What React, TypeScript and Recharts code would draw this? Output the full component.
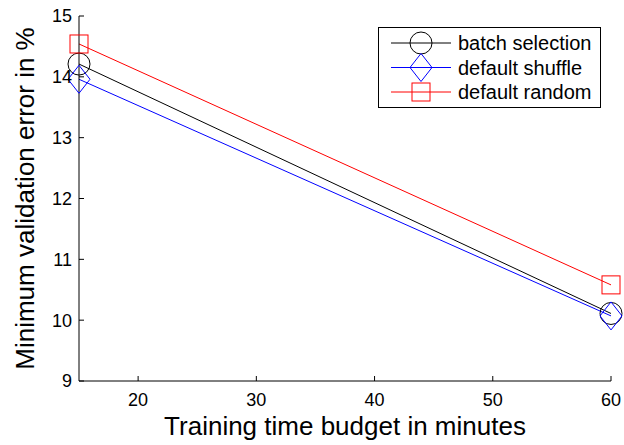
import React from 'react';
import { LineChart, Line, XAxis, YAxis, Legend } from 'recharts';

// values
const minutes = [15, 60];
const batchSelection = [14.21, 10.11];
const defaultShuffle = [13.96, 10.07];
const defaultRandom = [14.54, 10.58];

const xTicks = [20, 30, 40, 50, 60];
const yTicks = [9, 10, 11, 12, 13, 14, 15];

const seriesOrder = ['batch', 'shuffle', 'random'];

const data = minutes.map((m, i) => ({
  minutes: m,
  batch: batchSelection[i],
  shuffle: defaultShuffle[i],
  random: defaultRandom[i],
}));

const FONT = "'Liberation Sans', Arial, Helvetica, sans-serif";

type Shape = 'circle' | 'diamond' | 'square';

const marker = (shape: Shape, cx: number, cy: number, color: string, key?: string) => {
  if (shape === 'circle') {
    return <circle key={key} cx={cx} cy={cy} r={11} fill="none" stroke={color} strokeWidth={1} />;
  }
  if (shape === 'diamond') {
    const pts = `${cx},${cy - 14} ${cx + 11},${cy} ${cx},${cy + 14} ${cx - 11},${cy}`;
    return <polygon key={key} points={pts} fill="none" stroke={color} strokeWidth={1} />;
  }
  return <rect key={key} x={cx - 9} y={cy - 9} width={18} height={18} fill="none" stroke={color} strokeWidth={1} />;
};

const shapes: Record<string, Shape> = { batch: 'circle', shuffle: 'diamond', random: 'square' };

const makeDot = (shape: Shape, color: string) => (props: any) =>
  marker(shape, props.cx, props.cy, color, `${shape}-${props.index}`);

const BottomTick = ({ x, y, payload }: any) => (
  <g>
    <line x1={x} y1={y} x2={x} y2={y - 5} stroke="#000" />
    <text x={x} y={y + 25} textAnchor="middle" fontSize={18} fontFamily={FONT} fill="#000">
      {payload.value}
    </text>
  </g>
);

const TopTick = ({ x, y }: any) => <line x1={x} y1={y} x2={x} y2={y + 5} stroke="#000" />;

const LeftTick = ({ x, y, payload }: any) => (
  <g>
    <line x1={x} y1={y} x2={x + 5} y2={y} stroke="#000" />
    <text x={x - 7} y={y} dy="0.36em" textAnchor="end" fontSize={18} fontFamily={FONT} fill="#000">
      {payload.value}
    </text>
  </g>
);

const RightTick = ({ x, y }: any) => <line x1={x} y1={y} x2={x - 5} y2={y} stroke="#000" />;

const LegendBox = ({ payload }: any) => {
  const items = [...(payload || [])].sort(
    (a: any, b: any) => seriesOrder.indexOf(a.dataKey) - seriesOrder.indexOf(b.dataKey)
  );
  return (
    <svg width={224} height={82} style={{ display: 'block' }}>
      <rect x={0.5} y={0.5} width={222} height={80} fill="#fff" stroke="#000" strokeWidth={1} />
      {items.map((entry: any, i: number) => {
        const cy = 16 + i * 24.5;
        return (
          <g key={entry.value}>
            <line x1={13} y1={cy} x2={73} y2={cy} stroke={entry.color} strokeWidth={1} />
            {marker(shapes[entry.dataKey], 43, cy, entry.color)}
            <text x={80} y={cy} dy="0.36em" fontSize={20} fontFamily={FONT} fill="#000">
              {entry.value}
            </text>
          </g>
        );
      })}
    </svg>
  );
};

export default function App() {
  return (
    <div style={{ position: 'absolute', left: 0, top: 0, width: 624, height: 445, background: '#fff' }}>
      <LineChart width={624} height={445} data={data} margin={{ top: 16, right: 13, left: 0, bottom: 0 }}>
        <XAxis
          xAxisId="b"
          dataKey="minutes"
          type="number"
          domain={[15, 60]}
          ticks={xTicks}
          interval={0}
          height={64}
          tickSize={0}
          tickMargin={0}
          tickLine={false}
          axisLine={{ stroke: '#000', strokeWidth: 1 }}
          tick={<BottomTick />}
          label={{
            value: 'Training time budget in minutes',
            position: 'insideBottom',
            offset: 10,
            fontSize: 26,
            fontFamily: FONT,
            fill: '#000',
          }}
        />
        <XAxis
          xAxisId="t"
          orientation="top"
          dataKey="minutes"
          type="number"
          domain={[15, 60]}
          ticks={xTicks}
          interval={0}
          height={0}
          tickSize={0}
          tickMargin={0}
          tickLine={false}
          axisLine={{ stroke: '#000', strokeWidth: 1 }}
          tick={<TopTick />}
        />
        <YAxis
          yAxisId="l"
          type="number"
          domain={[9, 15]}
          ticks={yTicks}
          interval={0}
          width={79}
          tickSize={0}
          tickMargin={0}
          tickLine={false}
          axisLine={{ stroke: '#000', strokeWidth: 1 }}
          tick={<LeftTick />}
          label={{
            value: 'Minimum validation error in %',
            angle: -90,
            position: 'insideLeft',
            offset: 25,
            style: { textAnchor: 'middle' },
            fontSize: 26,
            fontFamily: FONT,
            fill: '#000',
          }}
        />
        <YAxis
          yAxisId="r"
          orientation="right"
          type="number"
          domain={[9, 15]}
          ticks={yTicks}
          interval={0}
          width={0}
          tickSize={0}
          tickMargin={0}
          tickLine={false}
          axisLine={{ stroke: '#000', strokeWidth: 1 }}
          tick={<RightTick />}
        />
        <Legend
          layout="horizontal"
          verticalAlign="middle"
          align="center"
          content={<LegendBox />}
          wrapperStyle={{ position: 'absolute', left: 378, top: 27, width: 224, height: 82 }}
        />
        <Line
          xAxisId="b"
          yAxisId="l"
          dataKey="batch"
          name="batch selection"
          stroke="#000"
          strokeWidth={1}
          dot={makeDot('circle', '#000')}
          activeDot={false}
          isAnimationActive={false}
        />
        <Line
          xAxisId="b"
          yAxisId="l"
          dataKey="shuffle"
          name="default shuffle"
          stroke="#0000ff"
          strokeWidth={1}
          dot={makeDot('diamond', '#0000ff')}
          activeDot={false}
          isAnimationActive={false}
        />
        <Line
          xAxisId="b"
          yAxisId="l"
          dataKey="random"
          name="default random"
          stroke="#ff0000"
          strokeWidth={1}
          dot={makeDot('square', '#ff0000')}
          activeDot={false}
          isAnimationActive={false}
        />
      </LineChart>
    </div>
  );
}
